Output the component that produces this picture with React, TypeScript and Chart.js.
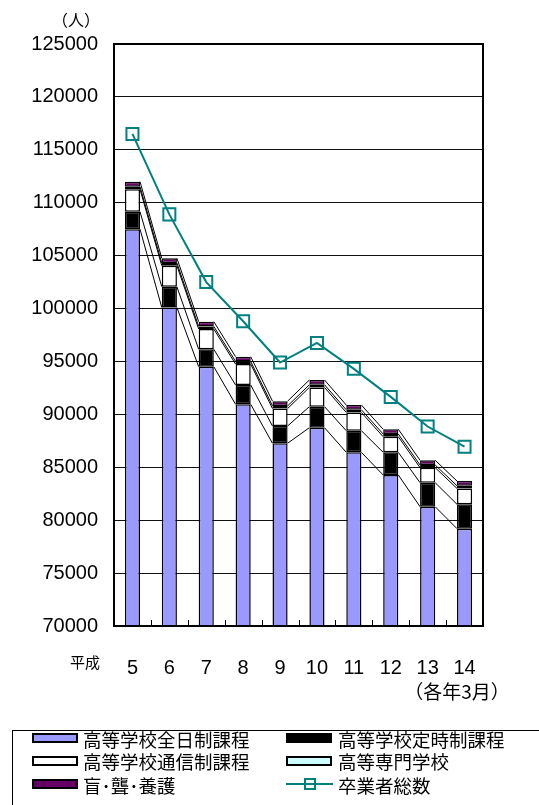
import React, { useEffect, useRef } from 'react';
import { Chart, registerables } from 'chart.js';

Chart.register(...registerables);

const categories = ['5', '6', '7', '8', '9', '10', '11', '12', '13', '14'];
const zennichi = [107500, 100100, 94500, 90950, 87270, 88740, 86410, 84270, 81270, 79200];
const teiji = [1650, 1960, 1650, 1825, 1630, 1990, 2040, 2140, 2270, 2300];
const tsushin = [2120, 1990, 1910, 1975, 1650, 1820, 1730, 1480, 1420, 1500];
const kosen = [250, 250, 250, 250, 250, 250, 250, 250, 250, 250];
const mourou = [470, 450, 450, 450, 450, 450, 450, 450, 450, 450];
const sotsugyo = [116500, 108900, 102500, 98800, 94900, 96750, 94300, 91650, 88850, 86950];

const yMin = 70000;
const yMax = 125000;
const yStep = 5000;

const LAT = "'Liberation Sans', Arial, 'Noto Sans CJK JP', sans-serif";
const CJK = "'Noto Sans CJK JP', 'Liberation Sans', sans-serif";

const barSeries = [
  { label: '高等学校全日制課程', data: zennichi, color: '#9999FF' },
  { label: '高等学校定時制課程', data: teiji, color: '#000000' },
  { label: '高等学校通信制課程', data: tsushin, color: '#FFFFFF' },
  { label: '高等専門学校', data: kosen, color: '#CCFFFF' },
  { label: '盲･聾･養護', data: mourou, color: '#660066' },
];
const lineLabel = '卒業者総数';
const lineColor = '#008080';

const extras = {
  id: 'extras',
  beforeDatasetsDraw(chart: any) {
    const ctx = chart.ctx;
    ctx.save();
    ctx.strokeStyle = '#000';
    ctx.lineWidth = 1;
    chart.data.datasets.forEach((ds: any, di: number) => {
      if (ds.type !== 'bar') return;
      const meta = chart.getDatasetMeta(di);
      for (let i = 0; i < meta.data.length - 1; i++) {
        const a = meta.data[i];
        const b = meta.data[i + 1];
        ctx.beginPath();
        ctx.moveTo(a.x + a.width / 2, a.y);
        ctx.lineTo(b.x - b.width / 2, b.y);
        ctx.stroke();
      }
    });
    ctx.restore();
  },
  afterDatasetsDraw(chart: any) {
    const ctx = chart.ctx;
    const { left, right, top, bottom } = chart.chartArea;
    const xs = chart.scales.x;
    ctx.save();
    ctx.strokeStyle = '#000';
    ctx.lineWidth = 1;
    for (let i = 1; i < categories.length; i++) {
      const x = Math.round((xs.getPixelForValue(i - 1) + xs.getPixelForValue(i)) / 2) + 0.5;
      ctx.beginPath();
      ctx.moveTo(x, bottom);
      ctx.lineTo(x, bottom - 6);
      ctx.stroke();
    }
    ctx.lineWidth = 2;
    ctx.strokeRect(left, top, right - left, bottom - top);
    ctx.restore();
  },
  afterDraw(chart: any) {
    const ctx = chart.ctx;
    ctx.save();
    ctx.fillStyle = '#000';
    ctx.textAlign = 'center';
    ctx.textBaseline = 'middle';
    ctx.font = `16px ${CJK}`;
    ctx.fillText('（人）', 76, 20);
    ctx.font = `15px ${CJK}`;
    ctx.fillText('平成', 85, 662);
    ctx.font = `19px ${CJK}`;
    ctx.fillText('（各年3月）', 457, 692);
    ctx.restore();
  },
};

export default function App() {
  const ref = useRef<HTMLCanvasElement | null>(null);
  useEffect(() => {
    if (!ref.current) return;
    const datasets: any[] = [
      {
        type: 'line',
        label: lineLabel,
        data: sotsugyo,
        stack: 'line',
        order: 0,
        borderColor: lineColor,
        borderWidth: 2,
        pointStyle: 'rect',
        pointRadius: 8.5,
        pointBorderWidth: 2,
        pointBorderColor: lineColor,
        pointBackgroundColor: 'rgba(0,0,0,0)',
        tension: 0,
      },
      ...barSeries.map((s) => ({
        type: 'bar',
        label: s.label,
        data: s.data,
        stack: 'bars',
        order: 1,
        backgroundColor: s.color,
        borderColor: '#000',
        borderWidth: 1.5,
        borderSkipped: false,
        barPercentage: 0.41,
        categoryPercentage: 1,
      })),
    ];
    const chart = new Chart(ref.current, {
      type: 'bar',
      data: { labels: categories, datasets },
      options: {
        responsive: false,
        animation: false,
        layout: { padding: { left: 0, top: 44, right: 56, bottom: 0 } },
        plugins: { legend: { display: false }, tooltip: { enabled: false } },
        scales: {
          x: {
            stacked: true,
            grid: { display: false },
            border: { display: true, color: '#000', width: 2 },
            ticks: {
              color: '#000',
              font: { size: 20, family: LAT },
              padding: 22,
              maxRotation: 0,
              autoSkip: false,
            },
            afterFit: (s: any) => {
              s.height = 179;
            },
          },
          y: {
            stacked: true,
            min: yMin,
            max: yMax,
            ticks: {
              stepSize: yStep,
              color: '#000',
              font: { size: 20, family: LAT },
              padding: 16,
              callback: (v: any) => String(v),
            },
            grid: { color: '#111', lineWidth: 1, drawTicks: false },
            border: { display: true, color: '#000', width: 2 },
            afterFit: (s: any) => {
              s.width = 114;
            },
          },
        },
      } as any,
      plugins: [extras],
    });
    return () => chart.destroy();
  }, []);

  const rowText = [739, 761.5, 785];
  const rowSw = [737.5, 761, 784];
  const colSw = [32, 286];
  const colTx = [83, 338];
  const items: any[] = [
    { label: barSeries[0].label, color: barSeries[0].color, r: 0, c: 0 },
    { label: barSeries[1].label, color: barSeries[1].color, r: 0, c: 1 },
    { label: barSeries[2].label, color: barSeries[2].color, r: 1, c: 0 },
    { label: barSeries[3].label, color: barSeries[3].color, r: 1, c: 1 },
    { label: barSeries[4].label, color: barSeries[4].color, r: 2, c: 0 },
    { label: lineLabel, color: lineColor, r: 2, c: 1, line: true },
  ];

  return (
    <div style={{ position: 'absolute', left: 0, top: 0, width: 539, height: 805, overflow: 'hidden', background: '#fff' }}>
      <canvas ref={ref} width={539} height={805} style={{ position: 'absolute', left: 0, top: 0, width: 539, height: 805 }} />
      <div
        style={{
          position: 'absolute',
          left: 12,
          top: 730,
          width: 600,
          height: 120,
          border: '1px solid #000',
          boxSizing: 'border-box',
        }}
      />
      {items.map((it, k) => (
        <React.Fragment key={k}>
          {it.line ? (
            <>
              <div
                style={{
                  position: 'absolute',
                  left: colSw[it.c],
                  top: rowSw[it.r] - 1,
                  width: 47,
                  height: 2,
                  background: it.color,
                }}
              />
              <div
                style={{
                  position: 'absolute',
                  left: colSw[it.c] + 23.5 - 6,
                  top: rowSw[it.r] - 6,
                  width: 12,
                  height: 12,
                  border: `2px solid ${it.color}`,
                  boxSizing: 'border-box',
                }}
              />
            </>
          ) : (
            <div
              style={{
                position: 'absolute',
                left: colSw[it.c],
                top: rowSw[it.r] - 5,
                width: 46,
                height: 10,
                background: it.color,
                border: '2px solid #000',
                boxSizing: 'border-box',
              }}
            />
          )}
          <div
            style={{
              position: 'absolute',
              left: colTx[it.c],
              top: rowText[it.r] - 11.5,
              height: 23,
              lineHeight: '23px',
              fontSize: 18.5,
              fontFamily: CJK,
              color: '#000',
              whiteSpace: 'nowrap',
            }}
          >
            {it.label}
          </div>
        </React.Fragment>
      ))}
    </div>
  );
}
